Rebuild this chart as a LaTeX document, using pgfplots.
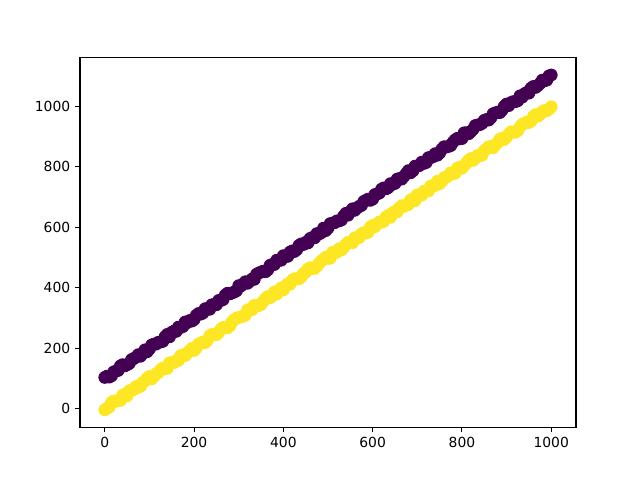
\documentclass[border=0pt]{standalone}
\usepackage{fontspec}
\setmainfont{DejaVu Sans}
\usepackage{pgfplots}
\pgfplotsset{compat=1.18}
\definecolor{vpurple}{HTML}{440154}
\definecolor{vyellow}{HTML}{FDE725}
\begin{document}
\begin{tikzpicture}
\path (-57.6pt,-38.02pt) rectangle (403.2pt,307.58pt);
\begin{axis}[at={(0,0)}, anchor=south west, scale only axis,
  width=357.12pt, height=266.11pt,
  xmin=-55.5, xmax=1055.5, ymin=-60.5, ymax=1160.5,
  xtick={0,200,400,600,800,1000}, ytick={0,200,400,600,800,1000},
  tick align=outside, tick pos=left, major tick length=3.5pt,
  axis line style={line width=0.8pt},
  every tick/.style={black, line width=0.8pt},
  tick label style={font=\fontsize{10}{12}\selectfont},
  /pgf/number format/assume math mode=true,
  /pgf/number format/1000 sep={},
  clip=false]
\addplot[only marks, mark=*, mark size=4.3pt, mark options={draw=vpurple, fill=vpurple, line width=0.6pt}] coordinates {
(0,104)(10,105)(20,122)(30,127)(40,146)(50,146)(60,163)(70,171)(80,174)(90,195)
(100,198)(110,214)(120,220)(130,223)(140,246)(150,253)(160,256)(170,269)(180,287)(190,292)
(200,295)(210,315)(220,317)(230,331)(240,344)(250,344)(260,358)(270,376)(280,380)(290,386)
(300,407)(310,413)(320,415)(330,429)(340,445)(350,452)(360,453)(370,474)(380,477)(390,491)
(400,506)(410,504)(420,522)(430,526)(440,545)(450,550)(460,563)(470,565)(480,578)(490,597)
(500,597)(510,614)(520,621)(530,624)(540,646)(550,652)(560,656)(570,669)(580,685)(590,693)
(600,693)(610,710)(620,726)(630,727)(640,744)(650,745)(660,761)(670,768)(680,787)(690,786)
(700,802)(710,815)(720,814)(730,830)(740,843)(750,845)(760,866)(770,867)(780,881)(790,894)
(800,893)(810,912)(820,916)(830,936)(840,939)(850,953)(860,954)(870,975)(880,980)(890,987)
(900,1007)(910,1012)(920,1015)(930,1034)(940,1041)(950,1043)(960,1065)(970,1068)(980,1086)(990,1086)(1000,1103)
(5,108)(15,109)(25,125)(35,142)(45,142)(55,150)(65,166)(75,179)(85,183)(95,189)
(105,211)(115,214)(125,221)(135,238)(145,238)(155,257)(165,270)(175,272)(185,285)(195,290)
(205,309)(215,313)(225,331)(235,329)(245,344)(255,358)(265,361)(275,382)(285,383)(295,390)
(305,406)(315,420)(325,422)(335,428)(345,449)(355,455)(365,459)(375,477)(385,491)(395,491)
(405,504)(415,518)(425,520)(435,540)(445,543)(455,548)(465,566)(475,579)(485,582)(495,589)
(505,612)(515,615)(525,621)(535,637)(545,640)(555,661)(565,664)(575,672)(585,689)(595,689)
(605,708)(615,713)(625,730)(635,731)(645,742)(655,759)(665,759)(675,777)(685,780)(695,802)
(705,804)(715,811)(725,830)(735,833)(745,838)(755,858)(765,865)(775,870)(785,889)(795,892)
(805,912)(815,909)(825,924)(835,938)(845,943)(855,956)(865,962)(875,978)(885,979)(895,1000)
(905,1002)(915,1015)(925,1018)(935,1030)(945,1045)(955,1060)(965,1062)(975,1075)(985,1084)(995,1100)
};
\addplot[only marks, mark=*, mark size=4.3pt, mark options={draw=vyellow, fill=vyellow, line width=0.6pt}] coordinates {
(0,-3)(10,6)(20,26)(30,28)(40,45)(50,43)(60,61)(70,74)(80,75)(90,92)
(100,107)(110,107)(120,120)(130,135)(140,134)(150,153)(160,159)(170,176)(180,176)(190,192)
(200,193)(210,214)(220,221)(230,227)(240,246)(250,245)(260,263)(270,270)(280,274)(290,295)
(300,302)(310,306)(320,327)(330,328)(340,341)(350,345)(360,364)(370,367)(380,386)(390,390)
(400,393)(410,413)(420,425)(430,429)(440,436)(450,452)(460,466)(470,464)(480,481)(490,494)
(500,497)(510,517)(520,518)(530,525)(540,543)(550,550)(560,565)(570,566)(580,582)(590,584)
(600,606)(610,611)(620,617)(630,634)(640,633)(650,652)(660,665)(670,669)(680,675)(690,693)
(700,707)(710,706)(720,720)(730,736)(740,738)(750,744)(760,764)(770,771)(780,777)(790,795)
(800,795)(810,812)(820,827)(830,829)(840,836)(850,853)(860,866)(870,863)(880,880)(890,894)
(900,898)(910,915)(920,914)(930,931)(940,943)(950,946)(960,966)(970,967)(980,982)(990,985)(1000,998)
(5,2)(15,21)(25,25)(35,28)(45,48)(55,60)(65,64)(75,71)(85,87)(95,101)
(105,99)(115,116)(125,129)(135,132)(145,152)(155,153)(165,160)(175,178)(185,185)(195,200)
(205,201)(215,217)(225,219)(235,241)(245,246)(255,252)(265,269)(275,268)(285,287)(295,300)
(305,304)(315,310)(325,328)(335,342)(345,341)(355,355)(365,371)(375,373)(385,379)(395,399)
(405,406)(415,412)(425,430)(435,430)(445,447)(455,462)(465,464)(475,471)(485,488)(495,501)
(505,498)(515,515)(525,529)(535,533)(545,550)(555,549)(565,566)(575,578)(585,581)(595,601)
(605,602)(615,617)(625,620)(635,639)(645,648)(655,651)(665,671)(675,673)(685,690)(695,688)
(705,706)(715,719)(725,720)(735,737)(745,752)(755,752)(765,765)(775,780)(785,779)(795,798)
(805,804)(815,821)(825,821)(835,837)(845,838)(855,859)(865,866)(875,872)(885,891)(895,890)
(905,908)(915,915)(925,919)(935,940)(945,947)(955,951)(965,972)(975,973)(985,986)(995,990)
};
\end{axis}
\end{tikzpicture}
\end{document}
